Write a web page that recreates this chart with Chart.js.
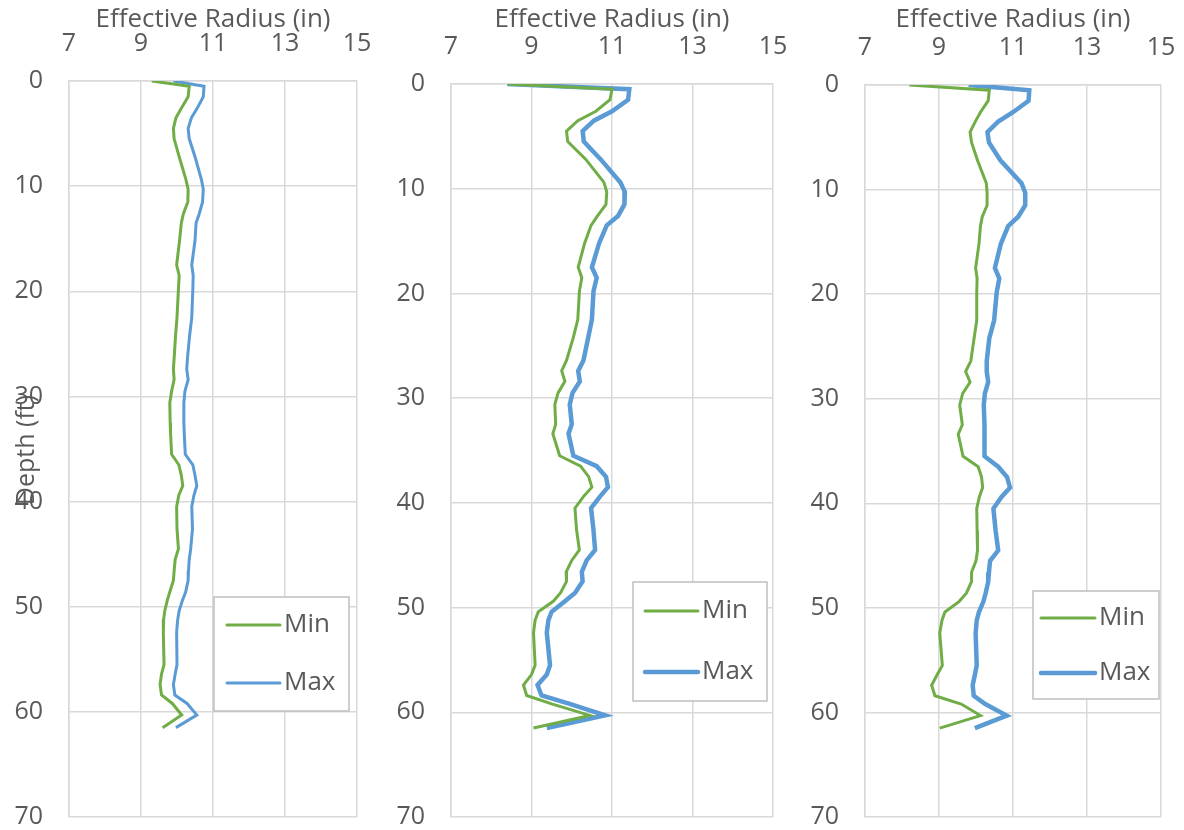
<!DOCTYPE html>
<html>
<head>
<meta charset="utf-8">
<script src="https://cdn.jsdelivr.net/npm/chart.js@4.4.1/dist/chart.umd.min.js"></script>
<style>
  html, body { margin: 0; padding: 0; background: #fff; }
  body { width: 1184px; height: 830px; position: relative; overflow: hidden; }
  .panel { position: absolute; top: 0; height: 830px; }
</style>
</head>
<body>
<div class="panel" style="left:0;width:390px"><canvas id="c1" width="390" height="830"></canvas></div>
<div class="panel" style="left:390px;width:400px"><canvas id="c2" width="400" height="830"></canvas></div>
<div class="panel" style="left:790px;width:394px"><canvas id="c3" width="394" height="830"></canvas></div>
<script>
// depth samples (ft), shared by all three panels
const depth = [0, 0.5, 1.5, 2.6, 3.5, 4.5, 5.5, 7.2, 9.4, 10.3, 11.5, 12.6, 13.5, 15.2, 17.5, 18.5, 19.8,
  22.5, 24.2, 26.4, 27.4, 28.4, 29.5, 30.6, 32.5, 33.4, 35.5, 36.5, 37.5, 38.5, 39.4, 40.5, 42.6,
  44.5, 45.5, 46.6, 47.5, 48.6, 49.4, 50.4, 51.2, 52.4, 55.5, 56.4, 57.4, 58.4, 59.2, 60.3, 61.5];

// effective radius (in)
const p1Min = [9.3, 10.34, 10.31, 10.12, 9.97, 9.9, 9.92, 10.06, 10.25, 10.31, 10.3, 10.18, 10.12, 10.07, 9.99, 10.06, 10.04,
  10.0, 9.96, 9.92, 9.9, 9.92, 9.85, 9.8, 9.81, 9.82, 9.85, 10.05, 10.12, 10.16, 10.05, 9.99, 10.0,
  10.04, 9.95, 9.92, 9.9, 9.8, 9.73, 9.66, 9.63, 9.62, 9.64, 9.57, 9.53, 9.57, 9.87, 10.13, 9.6];
const p1Max = [9.9, 10.75, 10.73, 10.56, 10.4, 10.31, 10.34, 10.5, 10.68, 10.73, 10.71, 10.62, 10.53, 10.5, 10.41, 10.45, 10.44,
  10.41, 10.35, 10.29, 10.27, 10.31, 10.22, 10.19, 10.19, 10.2, 10.23, 10.44, 10.5, 10.55, 10.47, 10.41, 10.43,
  10.38, 10.34, 10.32, 10.31, 10.24, 10.15, 10.06, 10.02, 9.99, 10.0, 9.95, 9.9, 9.94, 10.28, 10.55, 9.97];
const p2Min = [8.4, 11.0, 10.95, 10.6, 10.15, 9.87, 9.9, 10.35, 10.8, 10.87, 10.85, 10.64, 10.48, 10.32, 10.16, 10.25, 10.19,
  10.15, 10.04, 9.87, 9.75, 9.83, 9.66, 9.58, 9.6, 9.53, 9.7, 10.22, 10.42, 10.5, 10.29, 10.08, 10.12,
  10.19, 10.0, 9.86, 9.87, 9.72, 9.54, 9.17, 9.09, 9.05, 9.09, 9.0, 8.8, 8.88, 9.5, 10.45, 9.05];
const p2Max = [8.4, 11.43, 11.4, 11.0, 10.55, 10.27, 10.3, 10.72, 11.21, 11.32, 11.31, 11.15, 10.87, 10.68, 10.5, 10.62, 10.54,
  10.5, 10.41, 10.29, 10.16, 10.2, 10.02, 9.95, 10.0, 9.92, 10.04, 10.62, 10.85, 10.9, 10.7, 10.48, 10.54,
  10.58, 10.37, 10.25, 10.27, 10.08, 9.83, 9.5, 9.42, 9.38, 9.46, 9.38, 9.15, 9.25, 9.95, 10.83, 9.38];
const p3Min = [8.2, 10.36, 10.33, 10.12, 9.98, 9.84, 9.88, 10.04, 10.28, 10.3, 10.3, 10.17, 10.12, 10.08, 9.99, 10.03, 10.02,
  10.02, 9.95, 9.86, 9.72, 9.84, 9.64, 9.56, 9.63, 9.52, 9.65, 10.06, 10.15, 10.18, 10.09, 10.02, 10.03,
  10.04, 10.0, 9.88, 9.88, 9.74, 9.54, 9.16, 9.08, 9.02, 9.09, 8.95, 8.8, 8.89, 9.6, 10.12, 9.02];
const p3Max = [9.8, 11.44, 11.42, 11.0, 10.6, 10.31, 10.35, 10.66, 11.23, 11.33, 11.33, 11.14, 10.87, 10.67, 10.51, 10.63, 10.56,
  10.49, 10.36, 10.29, 10.29, 10.33, 10.24, 10.21, 10.23, 10.24, 10.22, 10.6, 10.84, 10.92, 10.69, 10.47, 10.53,
  10.6, 10.38, 10.35, 10.33, 10.26, 10.2, 10.08, 10.02, 9.99, 10.02, 9.97, 9.91, 9.94, 10.25, 10.83, 9.97];

const seriesNames = ['Min', 'Max'];
const xTitle = 'Effective Radius (in)';
const yTitle = 'Depth (ft)';

const GREEN = '#70AD47';
const BLUE = '#5B9BD5';
const TXT = '#595959';
const GRID = '#d9d9d9';
const FONT = "'Open Sans', 'Liberation Sans', sans-serif";

function pts(vals) {
  return vals.map((v, i) => ({ x: v, y: depth[i] }));
}

// legend box drawn inside the plot, like the spreadsheet one
const boxLegend = {
  id: 'boxLegend',
  afterDraw(chart, args, opts) {
    const ctx = chart.ctx;
    ctx.save();
    ctx.fillStyle = '#fff';
    ctx.fillRect(opts.x, opts.y, opts.w, opts.h);
    ctx.strokeStyle = '#bfbfbf';
    ctx.lineWidth = 1.5;
    ctx.strokeRect(opts.x, opts.y, opts.w, opts.h);
    chart.data.datasets.forEach((ds, i) => {
      const cy = opts.rows[i];
      ctx.strokeStyle = ds.borderColor;
      ctx.lineWidth = ds.borderWidth;
      ctx.lineCap = 'round';
      ctx.beginPath();
      ctx.moveTo(opts.x + opts.l1, cy);
      ctx.lineTo(opts.x + opts.l2, cy);
      ctx.stroke();
      ctx.fillStyle = TXT;
      ctx.font = '26px ' + FONT;
      ctx.textBaseline = 'middle';
      ctx.fillText(ds.label, opts.x + opts.l2 + 4, cy);
    });
    ctx.restore();
  }
};

// y title sits over the tick labels in the original
const depthTitle = {
  id: 'depthTitle',
  afterDraw(chart, args, opts) {
    if (!opts.show) return;
    const ctx = chart.ctx;
    ctx.save();
    ctx.translate(opts.x, opts.y);
    ctx.rotate(-Math.PI / 2);
    ctx.fillStyle = TXT;
    ctx.font = '25px ' + FONT;
    ctx.textAlign = 'center';
    ctx.textBaseline = 'middle';
    ctx.fillText(yTitle, 0, 0);
    ctx.restore();
  }
};

function makePanel(id, minVals, maxVals, p) {
  const ctx = document.getElementById(id).getContext('2d');
  return new Chart(ctx, {
    type: 'scatter',
    data: {
      datasets: [
        { label: seriesNames[0], data: pts(minVals), showLine: true, borderColor: GREEN, backgroundColor: GREEN,
          borderWidth: p.wMin, pointRadius: 0, tension: 0 },
        { label: seriesNames[1], data: pts(maxVals), showLine: true, borderColor: BLUE, backgroundColor: BLUE,
          borderWidth: p.wMax, pointRadius: 0, tension: 0 }
      ]
    },
    options: {
      responsive: false,
      animation: false,
      layout: { padding: { top: 0, left: 0, right: p.right, bottom: 13 } },
      plugins: {
        legend: { display: false },
        tooltip: { enabled: false },
        boxLegend: p.legend,
        depthTitle: { show: p.showY, x: 27, y: 450 }
      },
      scales: {
        x: {
          type: 'linear', position: 'top', min: 7, max: 15,
          ticks: { stepSize: 2, color: TXT, font: { family: FONT, size: 25 }, padding: 22 },
          grid: { color: GRID, lineWidth: 1.5, drawTicks: false },
          border: { color: GRID, width: 1.5 },
          title: { display: true, text: xTitle, color: TXT, font: { family: FONT, size: 26 }, padding: { top: 4, bottom: 0 } },
          afterFit(scale) {
            scale.height = p.top;
            scale.paddingLeft = 0;
            scale.paddingRight = 0;
          }
        },
        y: {
          type: 'linear', reverse: true, min: 0, max: 70,
          ticks: { stepSize: 10, color: TXT, font: { family: FONT, size: 25 }, padding: 26 },
          grid: { color: GRID, lineWidth: 1.5, drawTicks: false },
          border: { color: GRID, width: 1.5 },
          afterFit(scale) {
            scale.width = p.left;
            scale.paddingTop = 0;
            scale.paddingBottom = 0;
          }
        }
      }
    },
    plugins: [boxLegend, depthTitle]
  });
}

makePanel('c1', p1Min, p1Max, {
  left: 69, top: 81, right: 390 - 357, wMin: 3, wMax: 3, showY: true,
  legend: { x: 214, y: 597, w: 135, h: 114, l1: 13, l2: 66, rows: [625, 683] }
});
makePanel('c2', p2Min, p2Max, {
  left: 451 - 390, top: 84, right: 790 - 773, wMin: 3, wMax: 4.5, showY: false,
  legend: { x: 633 - 390, y: 582, w: 134, h: 119, l1: 12, l2: 65, rows: [611, 672] }
});
makePanel('c3', p3Min, p3Max, {
  left: 865 - 790, top: 85, right: 1184 - 1161, wMin: 3, wMax: 4.5, showY: false,
  legend: { x: 1033 - 790, y: 591, w: 126, h: 108, l1: 8, l2: 62, rows: [618, 673] }
});
</script>
</body>
</html>
